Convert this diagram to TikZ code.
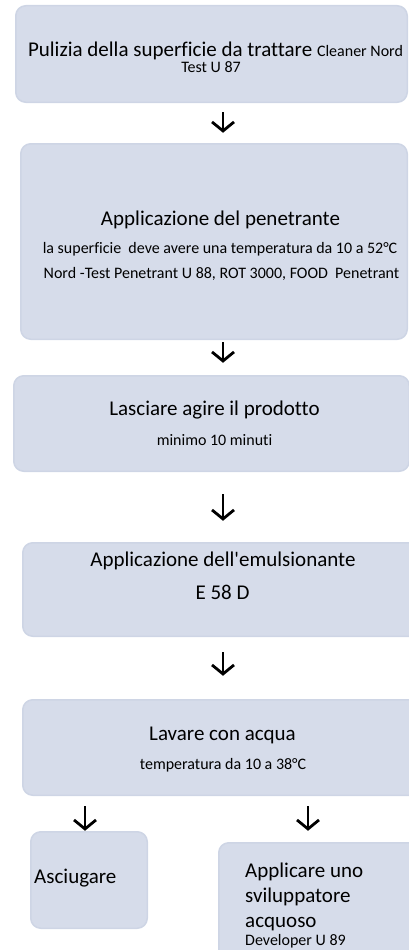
\documentclass[tikz,border=0pt]{standalone}
\usepackage{fontspec}
\setmainfont{Carlito}[Ligatures={NoCommon}, RawFeature={-liga;-clig}]
\usetikzlibrary{arrows.meta}
\definecolor{BoxFill}{RGB}{214,220,234}
\definecolor{BoxLine}{RGB}{206,213,229}
\definecolor{Black}{RGB}{0,0,0}
\newcommand{\titlesize}{\fontsize{21}{25}\selectfont}
\newcommand{\notesize}{\fontsize{16}{19}\selectfont}

\begin{document}
\begin{tikzpicture}[x=1pt, y=-1pt,
	stepbox/.style={fill=BoxFill, draw=BoxLine, line width=1.5pt, rounded corners=10pt, inner sep=0pt, outer sep=0pt},
	title/.style={anchor=base, font=\titlesize, inner sep=0pt},
	note/.style={anchor=base, font=\notesize, inner sep=0pt},
	flow/.style={-{Straight Barb[length=9pt,width=22pt]}, line width=2.8pt, color=Black}]
		
		\clip (0,0) rectangle (409,950);
		
		% Boxes
		\node[stepbox, minimum width=391.5pt, minimum height=96.5pt] (clean) at (211.5,54) {};
		\node[stepbox, minimum width=386.5pt, minimum height=195.5pt] (pen) at (214,241.5) {};
		\node[stepbox, minimum width=395.5pt, minimum height=95.5pt] (dwell) at (211.5,423.5) {};
		\node[stepbox, minimum width=396.5pt, minimum height=93.5pt] (emul) at (221,589.5) {};
		\node[stepbox, minimum width=396.5pt, minimum height=95.5pt] (wash) at (221,747.5) {};
		\node[stepbox, minimum width=116.5pt, minimum height=96.5pt] (dry) at (89,880) {};
		\node[stepbox, minimum width=200.5pt, minimum height=126.5pt] (dev) at (319,906) {};
		
		% Text
		\node[title] (cleanA) at (215.5,56.7) {Pulizia della superficie da trattare {\notesize Cleaner Nord}};
		\node[note] (cleanB) at (211,72.5) {Test U 87};
		
		\node[title] (penA) at (220.5,225) {Applicazione del penetrante};
		\node[note] (penB) at (220,253.3) {la superficie\ \ deve avere una temperatura da 10 a 52°C};
		\node[note] (penC) at (221.5,278) {Nord -Test Penetrant U 88, ROT 3000, FOOD\ \ Penetrant};
		
		\node[title] (dwellA) at (214.5,415) {Lasciare agire il prodotto};
		\node[note] (dwellB) at (214.5,445) {minimo 10 minuti};
		
		\node[title] (emulA) at (223,566) {Applicazione dell\textquotesingle emulsionante};
		\node[title] (emulB) at (222.5,599) {E 58 D};
		
		\node[title] (washA) at (222.5,740) {Lavare con acqua};
		\node[note] (washB) at (223,769) {temperatura da 10 a 38°C};
		
		\node[title, anchor=base west] (dryA) at (34,883) {Asciugare};
		
		\node[title, anchor=base west] (devA) at (245,877) {Applicare uno};
		\node[title, anchor=base west] (devB) at (245,902) {sviluppatore};
		\node[title, anchor=base west] (devC) at (245,927) {acquoso};
		\node[note, anchor=base west] (devD) at (245,945) {Developer U 89};
		
		% Arrows
		\coordinate (axis) at (223,0);
		\coordinate (axisL) at (85,0);
		\coordinate (axisR) at (308,0);
		\draw[flow, shorten <=10pt, shorten >=11pt] (clean.south -| axis) -- (pen.north -| axis);
		\draw[flow, shorten <=3pt, shorten >=13pt] (pen.south -| axis) -- (dwell.north -| axis);
		\draw[flow, shorten <=23pt, shorten >=22pt] (dwell.south -| axis) -- (emul.north -| axis);
		\draw[flow, shorten <=16pt, shorten >=24pt] (emul.south -| axis) -- (wash.north -| axis);
		\draw[flow, shorten <=11pt, shorten >=1pt] (wash.south -| axisL) -- (dry.north -| axisL);
		\draw[flow, shorten <=11pt, shorten >=12pt] (wash.south -| axisR) -- (dev.north -| axisR);
		
	\end{tikzpicture}
\end{document}
